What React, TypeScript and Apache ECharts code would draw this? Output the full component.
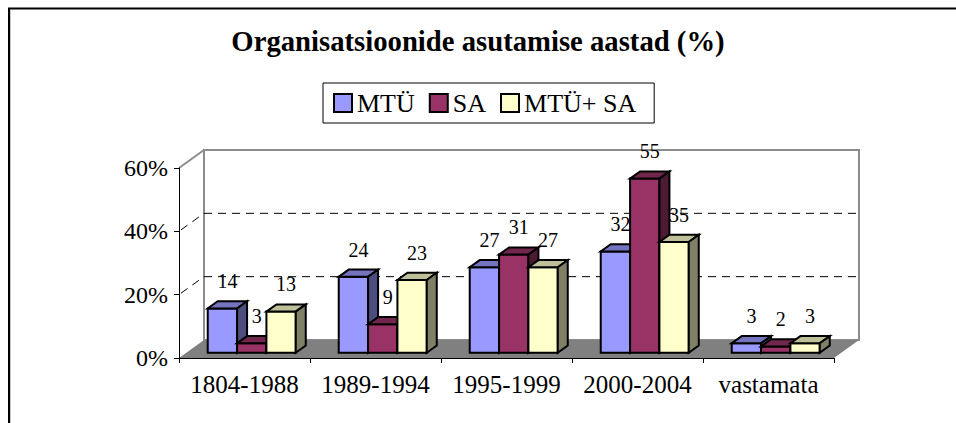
import React, { useEffect, useRef } from 'react';
import * as echarts from 'echarts';

const titleText = 'Organisatsioonide asutamise aastad (%)';
const categories = ['1804-1988', '1989-1994', '1995-1999', '2000-2004', 'vastamata'];
const seriesNames = ['MTÜ', 'SA', 'MTÜ+ SA'];
const mtuValues = [14, 24, 27, 32, 3];
const saValues = [3, 9, 31, 55, 2];
const mtuSaValues = [13, 23, 27, 35, 3];
const yTicks = [0, 20, 40, 60];

const FONT = 'Liberation Serif';
const DEPTH_X = 25;
const DEPTH_Y = -18;
const FRONT_F = 0.29;
const BACK_F = 0.69;
const BAR_FRAC = 0.224;
const LABEL_LIFT = 20;
const WALL_GRAY = '#8c8c8c';

const palettes = [
  { front: '#9999FF', top: '#7373BF', side: '#4D4D80' },
  { front: '#993366', top: '#73264D', side: '#4D1A33' },
  { front: '#FFFFCC', top: '#BFBF99', side: '#808066' },
];

const makeBarRender = (s: number) => (params: any, api: any) => {
  const cat = api.value(0);
  const val = api.value(1);
  const base = api.coord([cat, 0]);
  const topP = api.coord([cat, val]);
  const band = api.size([1, 0])[0];
  const w = band * BAR_FRAC;
  const fx = DEPTH_X * FRONT_F;
  const fy = DEPTH_Y * FRONT_F;
  const dx = DEPTH_X * (BACK_F - FRONT_F);
  const dy = DEPTH_Y * (BACK_F - FRONT_F);
  const x0 = base[0] - 1.5 * w + s * w + fx;
  const x1 = x0 + w;
  const yb = base[1] + fy;
  const yt = topP[1] + fy;
  const pal = palettes[s];
  const stroke = { stroke: '#000', lineWidth: 2, lineJoin: 'miter' };
  return {
    type: 'group',
    children: [
      {
        type: 'polygon',
        shape: { points: [[x0, yb], [x1, yb], [x1, yt], [x0, yt]] },
        style: { fill: pal.front, ...stroke },
      },
      {
        type: 'polygon',
        shape: { points: [[x0, yt], [x1, yt], [x1 + dx, yt + dy], [x0 + dx, yt + dy]] },
        style: { fill: pal.top, ...stroke },
      },
      {
        type: 'polygon',
        shape: { points: [[x1, yb], [x1 + dx, yb + dy], [x1 + dx, yt + dy], [x1, yt]] },
        style: { fill: pal.side, ...stroke },
      },
      {
        type: 'text',
        style: {
          text: String(val),
          x: (x0 + x1) / 2 + dx / 2,
          y: yt + dy - LABEL_LIFT,
          align: 'center',
          verticalAlign: 'middle',
          fontFamily: FONT,
          fontSize: 20,
          fill: '#000',
        },
      },
    ],
  };
};

const wallsRender = (params: any, api: any) => {
  const cs = params.coordSys;
  const L = cs.x;
  const R = cs.x + cs.width;
  const T = cs.y;
  const B = cs.y + cs.height;
  const dx = DEPTH_X;
  const dy = DEPTH_Y;
  const yMax = yTicks[yTicks.length - 1];
  const children: any[] = [];
  children.push({
    type: 'polygon',
    shape: { points: [[L + dx, T + dy], [R + dx, T + dy], [R + dx, B + dy], [L + dx, B + dy]] },
    style: { fill: '#fff', stroke: WALL_GRAY, lineWidth: 2 },
  });
  children.push({
    type: 'line',
    shape: { x1: L, y1: T, x2: L + dx, y2: T + dy },
    style: { stroke: WALL_GRAY, lineWidth: 2 },
  });
  yTicks
    .filter((v) => v > 0 && v < yMax)
    .forEach((v) => {
      const y = api.coord([0, v])[1];
      children.push({
        type: 'line',
        shape: { x1: L + dx, y1: y + dy, x2: R + dx, y2: y + dy },
        style: { stroke: '#000', lineWidth: 1, lineDash: [8, 6] },
      });
      children.push({
        type: 'line',
        shape: { x1: L + 2, y1: y - 1.5, x2: L + dx, y2: y + dy },
        style: { stroke: '#000', lineWidth: 1, lineDash: [8, 6] },
      });
    });
  children.push({
    type: 'polygon',
    shape: { points: [[L, B], [R, B], [R + dx, B + dy], [L + dx, B + dy]] },
    style: { fill: '#808080' },
  });
  return { type: 'group', children };
};

export default function App() {
  const ref = useRef<HTMLDivElement>(null);
  useEffect(() => {
    if (!ref.current) return;
    const chart = echarts.init(ref.current, undefined, { renderer: 'svg' });
    const valueSets = [mtuValues, saValues, mtuSaValues];
    const option: any = {
      animation: false,
      backgroundColor: '#fff',
      textStyle: { fontFamily: FONT },
      title: {
        text: titleText,
        left: 'center',
        top: 26,
        padding: 0,
        textStyle: { fontFamily: FONT, fontSize: 28.7, fontWeight: 'bold', color: '#000' },
      },
      legend: {
        data: seriesNames,
        left: 323,
        top: 83,
        padding: [7, 18, 7, 10],
        itemGap: 14,
        itemWidth: 18,
        itemHeight: 18,
        icon: 'rect',
        borderColor: '#000',
        borderWidth: 1,
        itemStyle: { borderColor: '#000', borderWidth: 2 },
        textStyle: { fontFamily: FONT, fontSize: 26, color: '#000' },
        selectedMode: false,
      },
      grid: { left: 179, top: 168, width: 655, height: 190, containLabel: false, outerBoundsMode: 'none' },
      xAxis: {
        type: 'category',
        data: categories,
        z: 10,
        axisLine: { show: true, lineStyle: { color: '#000', width: 1 } },
        axisTick: { show: true, length: 5, lineStyle: { color: '#000' } },
        axisLabel: { interval: 0, margin: 14, fontFamily: FONT, fontSize: 25, color: '#000' },
        splitLine: { show: false },
      },
      yAxis: {
        type: 'value',
        min: yTicks[0],
        max: yTicks[yTicks.length - 1],
        interval: yTicks[1] - yTicks[0],
        z: 10,
        axisLine: { show: true, lineStyle: { color: '#000', width: 1 } },
        axisTick: { show: true, length: 5, lineStyle: { color: '#000' } },
        axisLabel: { formatter: '{value}%', margin: 11, fontFamily: FONT, fontSize: 24, color: '#000' },
        splitLine: { show: false },
      },
      graphic: [
        {
          type: 'rect',
          silent: true,
          shape: { x: 9, y: 8.5, width: 1200, height: 800 },
          style: { fill: 'none', stroke: '#000', lineWidth: 2 },
        },
        {
          type: 'line',
          silent: true,
          shape: { x1: 10.5, y1: 10, x2: 10.5, y2: 430 },
          style: { stroke: '#c8c8c8', lineWidth: 1 },
        },
      ],
      series: [
        {
          type: 'custom',
          name: 'walls',
          clip: false,
          silent: true,
          z: 1,
          renderItem: wallsRender,
          data: [[0, 0]],
        },
        ...seriesNames.map((name, s) => ({
          type: 'custom',
          name,
          clip: false,
          z: 2,
          itemStyle: { color: palettes[s].front },
          renderItem: makeBarRender(s),
          data: categories.map((_, i) => [i, valueSets[s][i]]),
        })),
      ],
    };
    chart.setOption(option);
    return () => chart.dispose();
  }, []);
  return (
    <div
      ref={ref}
      style={{ position: 'fixed', left: 0, top: 0, width: 956, height: 423, background: '#fff' }}
    />
  );
}
